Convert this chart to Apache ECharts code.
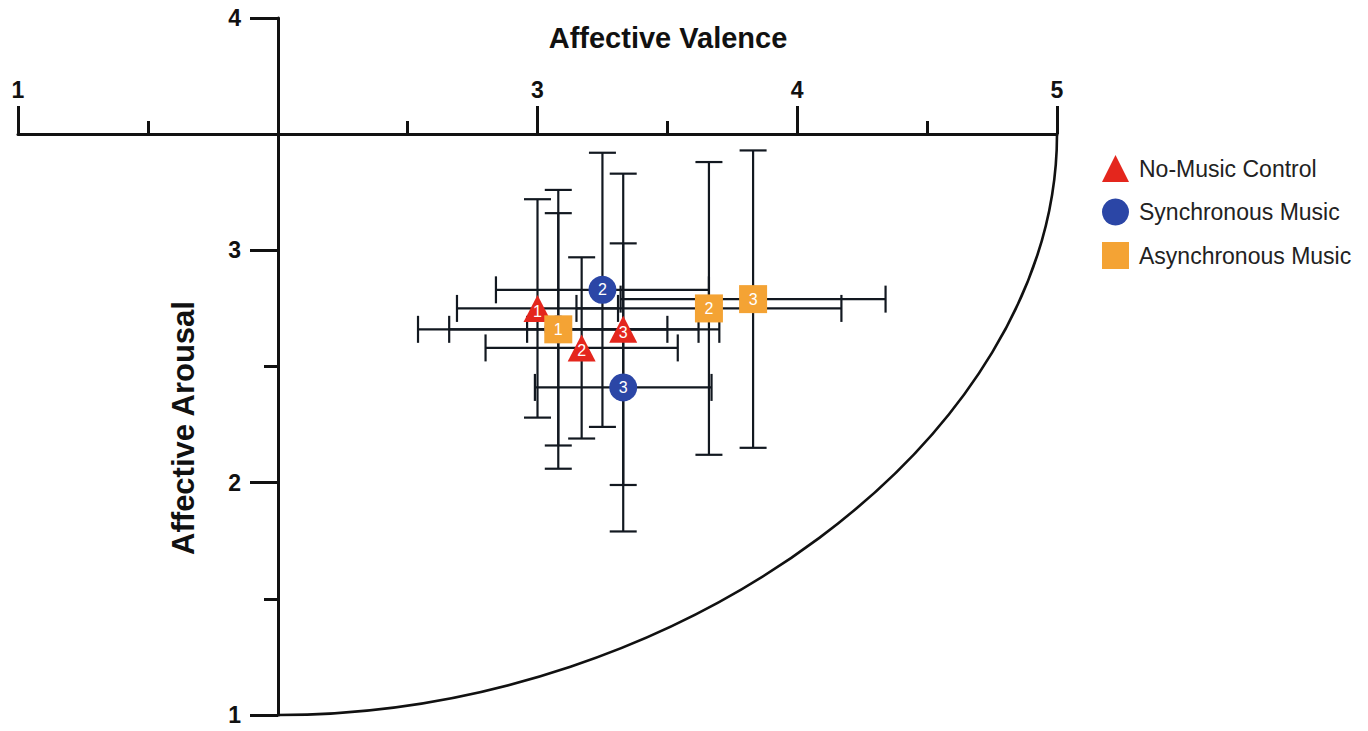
<!DOCTYPE html>
<html>
<head>
<meta charset="utf-8">
<script src="https://cdn.jsdelivr.net/npm/echarts@6/dist/echarts.min.js"></script>
<style>
html,body{margin:0;padding:0;background:#fff;}
#chart{width:1368px;height:731px;}
</style>
</head>
<body>
<div id="chart"></div>
<script>
// ---- data ----
const groupNames = ['No-Music Control', 'Synchronous Music', 'Asynchronous Music'];
const pointLabels = ['1', '2', '3'];

const controlValence = [3.00, 3.17, 3.33];
const controlArousal = [2.75, 2.58, 2.66];
const controlValenceErr = [0.31, 0.37, 0.37];
const controlArousalErr = [0.47, 0.39, 0.67];

const syncValence = [3.08, 3.25, 3.33];
const syncArousal = [2.66, 2.83, 2.41];
const syncValenceErr = [0.42, 0.41, 0.34];
const syncArousalErr = [0.50, 0.59, 0.62];

const asyncValence = [3.08, 3.66, 3.83];
const asyncArousal = [2.66, 2.75, 2.79];
const asyncValenceErr = [0.54, 0.51, 0.51];
const asyncArousalErr = [0.60, 0.63, 0.64];

const xTicks = [1, 2, 3, 4, 5];
const yTicks = [1, 2, 3, 4];
// circumplex boundary: quarter ellipse, centre (valence, arousal) and radii
const arcCenter = [2, 3.5];
const arcRadii = [3, 2.5];

// ---- build ----
const FONT = '"Liberation Sans", Arial, sans-serif';
const INK = '#111111';
const colors = ['#e4261d', '#2b46a6', '#f4a334'];
const symbols = ['triangle', 'circle', 'rect'];
const groups = [
  [controlValence, controlArousal, controlValenceErr, controlArousalErr],
  [syncValence, syncArousal, syncValenceErr, syncArousalErr],
  [asyncValence, asyncArousal, asyncValenceErr, asyncArousalErr]
];

function errRender(params, api) {
  const x = api.value(0), y = api.value(1), ex = api.value(2), ey = api.value(3);
  const l = api.coord([x - ex, y]), r = api.coord([x + ex, y]);
  const t = api.coord([x, y + ey]), b = api.coord([x, y - ey]);
  const c = 13.5;
  const style = { stroke: '#121820', lineWidth: 2.2 };
  const ln = (x1, y1, x2, y2) => ({ type: 'line', shape: { x1, y1, x2, y2 }, style });
  return {
    type: 'group',
    children: [
      ln(l[0], l[1], r[0], r[1]),
      ln(l[0], l[1] - c, l[0], l[1] + c),
      ln(r[0], r[1] - c, r[0], r[1] + c),
      ln(t[0], t[1], b[0], b[1]),
      ln(t[0] - c, t[1], t[0] + c, t[1]),
      ln(b[0] - c, b[1], b[0] + c, b[1])
    ]
  };
}

function arcRender(params, api) {
  const c = api.coord([api.value(0), api.value(1)]);
  const rx = api.size([api.value(2), 0])[0];
  const ry = api.size([0, api.value(3)])[1];
  const k = 0.52;
  return {
    type: 'bezierCurve',
    shape: {
      x1: c[0], y1: c[1] + ry,
      cpx1: c[0] + k * rx, cpy1: c[1] + ry,
      cpx2: c[0] + rx, cpy2: c[1] + k * ry,
      x2: c[0] + rx, y2: c[1]
    },
    style: { stroke: INK, lineWidth: 2.6, fill: null }
  };
}

const series = [];
series.push({
  type: 'custom', name: 'boundary', renderItem: arcRender, clip: false, silent: true, z: 1,
  encode: { x: 0, y: 1 },
  data: [[arcCenter[0], arcCenter[1], arcRadii[0], arcRadii[1]]]
});
groups.forEach((g, gi) => {
  series.push({
    type: 'custom', name: groupNames[gi] + ' err', renderItem: errRender, clip: false, silent: true, z: 2,
    encode: { x: 0, y: 1 },
    data: g[0].map((v, i) => [v, g[1][i], g[2][i], g[3][i]])
  });
});
groups.forEach((g, gi) => {
  series.push({
    type: 'scatter', name: groupNames[gi], z: 3 + gi,
    symbol: symbols[gi],
    symbolSize: gi === 0 ? [28, 27] : 28,
    itemStyle: { color: colors[gi], opacity: 1 },
    label: {
      show: true, position: 'inside', formatter: '{b}', color: '#fff',
      fontFamily: FONT, fontSize: 16, offset: gi === 0 ? [0, 3] : [0, 0]
    },
    emphasis: { disabled: true },
    data: g[0].map((v, i) => ({ name: pointLabels[i], value: [v, g[1][i]] }))
  });
});

const chart = echarts.init(document.getElementById('chart'), null, { renderer: 'svg' });
chart.setOption({
  animation: false,
  backgroundColor: '#ffffff',
  grid: { left: 18, right: 311, top: 18, bottom: 16 },
  xAxis: {
    type: 'value', min: xTicks[0], max: xTicks[xTicks.length - 1], interval: 1,
    position: 'top', offset: -116,
    axisLine: { show: true, lineStyle: { color: INK, width: 3 } },
    axisTick: { show: true, length: 28, lineStyle: { color: INK, width: 3 } },
    minorTick: { show: true, splitNumber: 2, length: 13, lineStyle: { color: INK, width: 3 } },
    axisLabel: {
      margin: 33, fontSize: 23, fontWeight: 'bold', color: INK, fontFamily: FONT,
      formatter: v => (v === 2 ? '' : String(v))
    },
    splitLine: { show: false }
  },
  yAxis: {
    type: 'value', min: yTicks[0], max: yTicks[yTicks.length - 1], interval: 1,
    position: 'left', offset: -260,
    axisLine: { show: true, lineStyle: { color: INK, width: 3 } },
    axisTick: { show: true, length: 28, lineStyle: { color: INK, width: 3 } },
    minorTick: { show: true, splitNumber: 2, length: 14, lineStyle: { color: INK, width: 3 } },
    axisLabel: { margin: 37, fontSize: 23, fontWeight: 'bold', color: INK, fontFamily: FONT },
    splitLine: { show: false }
  },
  legend: {
    orient: 'vertical', left: 1097, top: 150,
    itemWidth: 27, itemHeight: 27, itemGap: 16.5,
    textStyle: { fontSize: 23, color: '#222', fontFamily: FONT, padding: [0, 0, 0, 5] },
    data: groupNames.map((n, i) => ({ name: n, icon: symbols[i] })),
    selectedMode: false
  },
  graphic: [
    {
      type: 'text', x: 668, y: 38,
      style: { text: 'Affective Valence', font: 'bold 29px ' + FONT, fill: INK, align: 'center', verticalAlign: 'middle' }
    },
    {
      type: 'text', x: 183, y: 428, rotation: Math.PI / 2,
      style: { text: 'Affective Arousal', font: 'bold 31px ' + FONT, fill: INK, align: 'center', verticalAlign: 'middle' }
    }
  ],
  series
});
</script>
</body>
</html>
